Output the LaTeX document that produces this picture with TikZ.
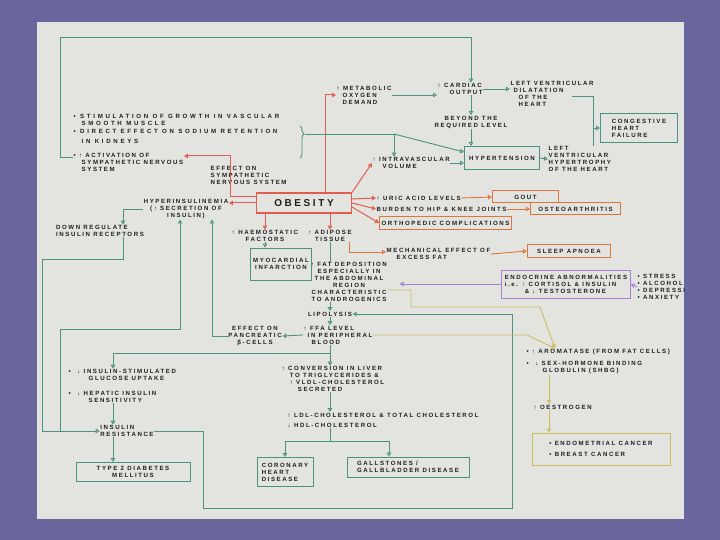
\documentclass[tikz,border=0pt]{standalone}
\usepackage{fontspec}
\usepackage{tikz}
\usetikzlibrary{calc,arrows.meta,decorations.pathreplacing,positioning}
\newfontfamily\hand[LetterSpace=26]{Liberation Sans}
\newfontfamily\handwide[LetterSpace=44]{Liberation Sans}
\definecolor{frameBlue}{RGB}{104,102,156}
\definecolor{paperGray}{RGB}{227,228,224}
\definecolor{inkDark}{RGB}{30,30,30}
\definecolor{linkG}{RGB}{72,148,128}
\definecolor{linkR}{RGB}{226,92,80}
\definecolor{linkO}{RGB}{220,118,60}
\definecolor{linkP}{RGB}{170,128,215}
\definecolor{linkY}{RGB}{200,192,96}

\begin{document}
\begin{tikzpicture}[x=1pt, y=-1pt,
    lbl/.style={font=\hand\bfseries\fontsize{6.1}{7}\selectfont, text=inkDark, inner sep=0.5pt, align=left},
    wideLbl/.style={lbl, font=\handwide\bfseries\fontsize{6.1}{7}\selectfont},
    boxG/.style={lbl, draw=linkG, line width=0.9pt, inner sep=3pt},
    boxR/.style={lbl, draw=linkR, line width=1.1pt, inner sep=3pt},
    boxO/.style={lbl, draw=linkO, line width=1pt, inner sep=2pt},
    boxP/.style={lbl, draw=linkP, line width=0.9pt, inner sep=3pt},
    boxY/.style={lbl, draw=linkY, line width=0.9pt, inner sep=3pt},
    openTip/.style={-{Triangle[open,length=4pt,width=4.5pt]}},
    lnG/.style={draw=linkG, line width=0.9pt},
    toG/.style={lnG, openTip},
    toR/.style={draw=linkR, line width=1pt, openTip},
    toO/.style={draw=linkO, line width=0.9pt, openTip},
    toP/.style={draw=linkP, line width=0.9pt, openTip},
    toY/.style={draw=linkY, line width=0.9pt, openTip}]
  \useasboundingbox (0,0) rectangle (720,540);
  % frame and sheet
  \fill[frameBlue] (0,0) rectangle (720,540);
  \fill[paperGray] (37,22) rectangle (684,519);

  % bus lines
  \coordinate (busA) at (180,0);
  \coordinate (busB) at (212,0);
  \coordinate (busC) at (113,0);
  \coordinate (busD) at (123,0);
  \coordinate (busE) at (549,0);

  % centre
  \node[boxR, font=\hand\bfseries\fontsize{10}{12}\selectfont, minimum width=95, minimum height=20] (obes) at (304,203) {OBESITY};

  % left list
  \node[wideLbl, anchor=west] (stim) at (73,120) {• STIMULATION OF GROWTH IN VASCULAR\\\hspace*{8pt}SMOOTH MUSCLE};
  \node[wideLbl, anchor=west] (sodium) at (73,136) {• DIRECT EFFECT ON SODIUM RETENTION\\[3pt]\hspace*{8pt}IN KIDNEYS};
  \node[lbl, anchor=west] (sympa) at (73,162) {• ↑ ACTIVATION OF\\\hspace*{8pt}SYMPATHETIC NERVOUS\\\hspace*{8pt}SYSTEM};
  \draw[linkG, line width=0.9pt, decorate, decoration={brace, amplitude=4pt, aspect=0.25}] (300,126) -- (300,158);
  \coordinate (braceTip) at (305,134);
  \node[lbl, anchor=north west] (effSns) at (210,166) {EFFECT ON\\SYMPATHETIC\\NERVOUS SYSTEM};

  % heart branch
  \node[lbl, anchor=west] (metab) at (336,95) {↑ METABOLIC\\\hspace*{6pt}OXYGEN\\\hspace*{6pt}DEMAND};
  \node[lbl, anchor=west] (cardiac) at (437,89) {↑ CARDIAC\\\hspace*{12pt}OUTPUT};
  \node[lbl, anchor=west] (lvdil) at (510,94) {LEFT VENTRICULAR\\\hspace*{3pt}DILATATION\\\hspace*{8pt}OF THE\\\hspace*{8pt}HEART};
  \node[lbl, align=center] (beyond) at (471,122) {BEYOND THE\\REQUIRED LEVEL};
  \node[boxG, minimum width=75, minimum height=23] (hyper) at (502,158) {HYPERTENSION};
  \node[lbl, anchor=west] (intra) at (372,163) {↑ INTRAVASCULAR\\\hspace*{10pt}VOLUME};
  \node[lbl, anchor=west] (lvh) at (548,159) {LEFT\\VENTRICULAR\\HYPERTROPHY\\OF THE HEART};
  \node[boxG, minimum width=77, minimum height=29] (chf) at (639,128) {CONGESTIVE\\HEART\\FAILURE};
  \coordinate (chfBus) at (593,128);
  \coordinate (fork) at (394,134);

  % joints and uric acid
  \node[lbl, anchor=west] (uric) at (376,198) {↑ URIC ACID LEVELS};
  \node[lbl, anchor=west] (burden) at (376,209) {BURDEN TO HIP \& KNEE JOINTS};
  \node[boxO, anchor=west, minimum height=13] (ortho) at (379,223) {ORTHOPEDIC COMPLICATIONS};
  \node[boxO, anchor=west, minimum width=66, minimum height=12] (gout) at (492,197) {GOUT};
  \node[boxO, anchor=west, minimum width=90, minimum height=12] (osteo) at (530,209) {OSTEOARTHRITIS};

  % below obesity
  \node[lbl, align=center] (haem) at (265,236) {↑ HAEMOSTATIC\\FACTORS};
  \node[lbl, align=center] (adip) at (330,236) {↑ ADIPOSE\\TISSUE};
  \node[boxG, align=center, minimum width=52, minimum height=32] (mi) at (281,264) {MYOCARDIAL\\INFARCTION};
  \node[lbl, anchor=west] (mech) at (386,254) {MECHANICAL EFFECT OF\\\hspace*{10pt}EXCESS FAT};
  \node[boxO, anchor=west, minimum width=83, minimum height=13] (apnoea) at (527,251) {SLEEP APNOEA};
  \node[lbl, align=center] (fatdep) at (349,282) {↑ FAT DEPOSITION\\ESPECIALLY IN\\THE ABDOMINAL\\REGION\\CHARACTERISTIC\\TO ANDROGENICS};
  \node[lbl] (lipo) at (330,314) {LIPOLYSIS};
  \node[lbl] (ffa) at (338,335) {↑ FFA LEVEL\\\hspace*{4pt}IN PERIPHERAL\\\hspace*{8pt}BLOOD};
  \node[lbl, align=center] (beta) at (255,336) {EFFECT ON\\PANCREATIC\\β-CELLS};

  % insulin side
  \node[lbl, align=center] (hins) at (186,209) {HYPERINSULINEMIA\\(↑ SECRETION OF\\INSULIN)};
  \node[lbl] (downreg) at (100,231) {DOWN REGULATE\\INSULIN RECEPTORS};
  \node[lbl, anchor=west] (gluc) at (68,375) {•\ \ ↓ INSULIN-STIMULATED\\\hspace*{20pt}GLUCOSE UPTAKE};
  \node[lbl, anchor=west] (hepat) at (68,397) {•\ \ ↓ HEPATIC INSULIN\\\hspace*{20pt}SENSITIVITY};
  \node[lbl] (ir) at (127,431) {INSULIN\\RESISTANCE};
  \node[boxG, align=center, minimum width=114, minimum height=19] (t2dm) at (133,472) {TYPE 2 DIABETES\\MELLITUS};

  % lipids
  \node[lbl] (conv) at (333,379) {↑ CONVERSION IN LIVER\\\hspace*{8pt}TO TRIGLYCERIDES \&\\\hspace*{8pt}↑ VLDL-CHOLESTEROL\\\hspace*{16pt}SECRETED};
  \node[lbl, anchor=west] (ldl) at (287,420) {↑ LDL-CHOLESTEROL \& TOTAL CHOLESTEROL\\[3pt]↓ HDL-CHOLESTEROL};
  \node[boxG, minimum width=56, minimum height=29] (chd) at (285,472) {CORONARY\\HEART\\DISEASE};
  \node[boxG, minimum width=122, minimum height=20] (gall) at (408,467) {GALLSTONES /\\GALLBLADDER DISEASE};
  \coordinate (ffaJn) at (330,353);
  \coordinate (ldlJn) at (330,441);

  % hormones
  \node[boxP, minimum width=123, minimum height=28] (endo) at (566,284) {ENDOCRINE ABNORMALITIES\\i.e. ↑ CORTISOL \& INSULIN\\\hspace*{20pt}\& ↓ TESTOSTERONE};
  \begin{scope}
    \clip (37,22) rectangle (684,519);
    \node[lbl, anchor=west] (stress) at (637,287) {• STRESS\\• ALCOHOL\\• DEPRESSION\\• ANXIETY};
    \node[lbl, anchor=west] (arom) at (526,352) {• ↑ AROMATASE (FROM FAT CELLS)};
  \end{scope}
  \node[lbl, anchor=west] (shbg) at (526,368) {•\ \ ↓ SEX-HORMONE BINDING\\\hspace*{16pt}GLOBULIN (SHBG)};
  \node[lbl, anchor=west] (oest) at (533,407) {↑ OESTROGEN};
  \node[boxY, minimum width=138, minimum height=32] (cancer) at (601,449) {• ENDOMETRIAL CANCER\\[4pt]• BREAST CANCER};

  % red links out of obesity
  \draw[toR] (obes.north west) ++(0,4) -| (230,156) -- (sympa.east |- 230,156);
  \draw[toR] ([xshift=21pt]obes.north) |- (metab.west);
  \draw[toR] (obes.north east) -- (intra.west);
  \draw[toR] (obes.west) -- (obes.west -| hins.east);
  \draw[toR] ([yshift=4pt]obes.east) -- (uric.west);
  \draw[toR] (obes.east) -- (burden.west);
  \draw[toR] ([yshift=-4pt]obes.east) -- (ortho.west);
  \draw[toR] (haem.north |- obes.south) -- (haem.north);
  \draw[toR] (adip.north |- obes.south) -- (adip.north);

  % heart links
  \draw[toG] ([yshift=5pt]sympa.west) -| (60,37) -| (cardiac.north -| beyond.north);
  \draw[toG] (metab.east) -- (metab.east -| cardiac.west);
  \draw[toG] (cardiac.east) -- (cardiac.east -| lvdil.west);
  \draw[toG] (cardiac.south -| beyond.north) -- (beyond.north);
  \draw[toG] (beyond.south) -- (beyond.south |- hyper.north);
  \draw[lnG] (braceTip) -- (fork);
  \draw[toG] (fork) -- ([yshift=6pt]hyper.west);
  \draw[toG] (fork) -- (fork |- intra.north);
  \draw[toG] (intra.east) -- (intra.east -| hyper.west);
  \draw[toG] (hyper.east) -- (lvh.west);
  \draw[lnG] (lvdil.east) ++(-22,2) -| (chfBus);
  \draw[lnG] (lvh.north -| chfBus) -- (chfBus);
  \draw[toG] (chfBus) -- (chf.west);

  % joints
  \draw[toO] (uric.east) -- (gout.west);
  \draw[toO] (burden.east) -- (osteo.west);
  \draw[toO] ([xshift=-3pt]adip.south east) |- ([yshift=2pt]mech.west);
  \draw[toO] (mech.east) -- (apnoea.west);

  % fat and lipids
  \draw[toG] (haem.south) -- (haem.south |- mi.north);
  \draw[lnG] (adip.south) -- (adip.south |- fatdep.north);
  \draw[toG] (fatdep.south -| lipo.north) -- (lipo.north);
  \draw[toG] (lipo.south) -- (lipo.south |- ffa.north);
  \draw[toG] (ffa.west) -- (beta.east);
  \draw[toG] (beta.west) -| (hins.south -| busB);
  \draw[lnG] (ffa.south -| ffaJn) -- (ffaJn);
  \draw[toG] (ffaJn) -| (gluc.north -| busC);
  \draw[toG] (ffaJn) -- (conv.north -| ffaJn);
  \draw[toG] (conv.south -| ffaJn) -- (ldl.north -| ffaJn);
  \draw[lnG] (ldl.south -| ldlJn) -- (ldlJn);
  \draw[toG] (ldlJn) -| (chd.north);
  \draw[toG] (ldlJn) -| ([xshift=-19pt]gall.north);

  % insulin links
  \draw[toG] (hins.west) -| (downreg.north -| busD);
  \draw[toG] (downreg.south -| busD) |- (42,259) |- (ir.west);
  \draw[toG] (60,431) |- (180,329) -- (hins.south -| busA);
  \draw[toG] (hepat.south -| busC) -- (ir.north -| busC);
  \draw[toG] (ir.south -| busC) -- (t2dm.north -| busC);
  \draw[toG] (ir.east) -| (203,508) -| (512,314) -- (lipo.east);

  % hormone links
  \draw[toP] (endo.west) -- ([xshift=12pt]endo.west -| fatdep.east);
  \draw[toP] (stress.west) -- (endo.east);
  \draw[toY] ([yshift=-8pt]fatdep.east) -| (411,307) -- (540,307) -- ([xshift=29pt]arom.north west);
  \draw[toY] (ffa.east) -- (527,335) -- ([xshift=29pt]arom.north west);
  \draw[toY] (shbg.south -| busE) -- (oest.north -| busE);
  \draw[toY] (oest.south -| busE) -- (cancer.north -| busE);
\end{tikzpicture}
\end{document}
